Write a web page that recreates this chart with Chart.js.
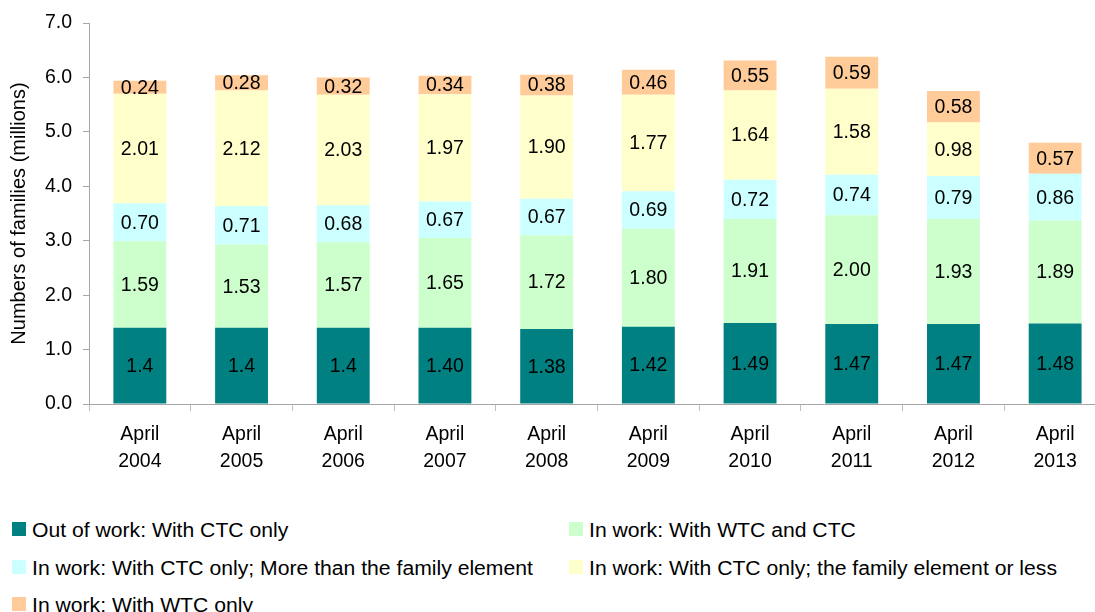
<!DOCTYPE html>
<html>
<head>
<meta charset="utf-8">
<script src="https://cdn.jsdelivr.net/npm/chart.js@4"></script>
<style>
  body { margin: 0; background: #fff; font-family: "Liberation Sans", Arial, sans-serif; }
  #wrap { position: relative; width: 1095px; height: 612px; overflow: hidden; }
  #chart { position: absolute; left: 0; top: 0; }
  .legend-box { position: absolute; width: 14px; height: 14px; }
  .legend-text {
    position: absolute; font-size: 19.5px; line-height: 20px; color: #000; white-space: nowrap;
    transform: scaleX(1.085); transform-origin: left center;
  }
</style>
</head>
<body>
<div id="wrap">
  <canvas id="chart" width="1106" height="490"></canvas>
  <div id="legend"></div>
</div>
<script>
const years = ["2004", "2005", "2006", "2007", "2008", "2009", "2010", "2011", "2012", "2013"];
const categories = years.map((y) => ["April", y]);

const outOfWork = [1.4, 1.4, 1.4, 1.40, 1.38, 1.42, 1.49, 1.47, 1.47, 1.48];
//first three years are printed with one decimal in the source
const outOfWorkText = ["1.4", "1.4", "1.4", "1.40", "1.38", "1.42", "1.49", "1.47", "1.47", "1.48"];
const wtcAndCtc = [1.59, 1.53, 1.57, 1.65, 1.72, 1.80, 1.91, 2.00, 1.93, 1.89];
const ctcMore = [0.70, 0.71, 0.68, 0.67, 0.67, 0.69, 0.72, 0.74, 0.79, 0.86];
const ctcFamily = [2.01, 2.12, 2.03, 1.97, 1.90, 1.77, 1.64, 1.58, 0.98, 0];
const wtcOnly = [0.24, 0.28, 0.32, 0.34, 0.38, 0.46, 0.55, 0.59, 0.58, 0.57];

const seriesNames = [
  "Out of work: With CTC only",
  "In work: With WTC and CTC",
  "In work: With CTC only; More than the family element",
  "In work: With CTC only; the family element or less",
  "In work: With WTC only",
];
const seriesColors = ["#008080", "#ccffcc", "#ccffff", "#ffffcc", "#ffcc99"];

const FONT = "'Liberation Sans', Arial, sans-serif";

//draw value text in the middle of every segment
const segmentLabels = {
  id: "segmentLabels",
  afterDatasetsDraw(chart) {
    const ctx = chart.ctx;
    ctx.save();
    ctx.font = "19.5px " + FONT;
    ctx.fillStyle = "#000";
    ctx.textAlign = "center";
    ctx.textBaseline = "middle";
    chart.data.datasets.forEach((ds, i) => {
      const meta = chart.getDatasetMeta(i);
      meta.data.forEach((bar, j) => {
        const v = ds.data[j];
        if (!v) return;
        const text = ds.texts ? ds.texts[j] : v.toFixed(2);
        ctx.fillText(text, bar.x, (bar.y + bar.base) / 2 + 1);
      });
    });
    ctx.restore();
  },
};

const allData = [outOfWork, wtcAndCtc, ctcMore, ctcFamily, wtcOnly];

new Chart(document.getElementById("chart"), {
  type: "bar",
  plugins: [segmentLabels],
  data: {
    labels: categories,
    datasets: allData.map((d, i) => ({
      label: seriesNames[i],
      data: d,
      texts: i === 0 ? outOfWorkText : null,
      backgroundColor: seriesColors[i],
      borderWidth: 0,
      barPercentage: 0.52,
      categoryPercentage: 1,
    })),
  },
  options: {
    responsive: false,
    animation: false,
    layout: { padding: { left: 0, right: 0, top: 23, bottom: 0 } },
    plugins: {
      legend: { display: false },
      tooltip: { enabled: false },
    },
    scales: {
      x: {
        stacked: true,
        afterFit: (scale) => { scale.height = 86; },
        border: { color: "#a6a6a6" },
        grid: { drawOnChartArea: false, offset: true, tickLength: 7, color: "#bfbfbf" },
        ticks: {
          color: "#000",
          padding: 10,
          maxRotation: 0,
          font: { family: FONT, size: 19.5, lineHeight: 1.385 },
        },
      },
      y: {
        stacked: true,
        min: 0,
        max: 7,
        afterFit: (scale) => { scale.width = 89; },
        border: { color: "#a6a6a6" },
        grid: { drawOnChartArea: false, tickLength: 6, color: "#a6a6a6" },
        ticks: {
          stepSize: 1,
          color: "#000",
          padding: 11,
          font: { family: FONT, size: 19.5 },
          callback: (v) => Number(v).toFixed(1),
        },
        title: {
          display: true,
          text: "Numbers of families (millions)",
          color: "#000",
          padding: { top: 7, bottom: 0 },
          font: { family: FONT, size: 20 },
        },
      },
    },
  },
});

//legend in two columns under the chart
const legendPos = [
  [12, 522], [569, 522],
  [12, 560], [569, 560],
  [12, 597],
];
const legend = document.getElementById("legend");
seriesNames.forEach((name, i) => {
  const [x, y] = legendPos[i];
  const box = document.createElement("div");
  box.className = "legend-box";
  box.style.left = x + "px";
  box.style.top = y + "px";
  box.style.background = seriesColors[i];
  const txt = document.createElement("div");
  txt.className = "legend-text";
  txt.style.left = x + 20 + "px";
  txt.style.top = y - 2.4 + "px";
  txt.textContent = name;
  legend.appendChild(box);
  legend.appendChild(txt);
});
</script>
</body>
</html>
